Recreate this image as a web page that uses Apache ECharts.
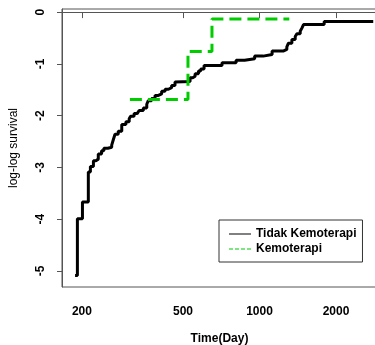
<!DOCTYPE html>
<html>
<head>
<meta charset="utf-8">
<script src="https://cdn.jsdelivr.net/npm/echarts@6/dist/echarts.min.js"></script>
<style>
html, body { margin: 0; padding: 0; background: #fff; }
#chart { width: 375px; height: 345px; }
</style>
</head>
<body>
<div id="chart"></div>
<script>
// Tidak Kemoterapi (black step curve)
const tidakTimes = [188, 192, 201, 212, 216, 222, 227, 232, 239, 244, 253, 262, 266, 270, 278, 287,
    298, 307, 311, 321, 330, 336, 349, 360, 365, 376, 388, 400, 412, 425, 438, 451, 465, 472,
    533, 546, 558, 575, 587, 605, 712, 809, 874, 957, 1034, 1121, 1245, 1281, 1300, 1341,
    1382, 1403, 1446, 1468, 1490, 1797, 2803];
const tidakValues = [-5.09, -3.99, -3.67, -3.09, -2.98, -2.87, -2.84, -2.74, -2.68, -2.63, -2.61, -2.57,
    -2.46, -2.36, -2.30, -2.17, -2.12, -2.06, -2.01, -1.96, -1.94, -1.90, -1.85, -1.78, -1.71,
    -1.67, -1.61, -1.58, -1.53, -1.49, -1.46, -1.42, -1.35, -1.34, -1.27, -1.24, -1.19, -1.14,
    -1.10, -1.03, -0.98, -0.93, -0.90, -0.85, -0.82, -0.75, -0.72, -0.67, -0.60, -0.53, -0.47,
    -0.42, -0.37, -0.31, -0.24, -0.18, -0.18];

// Kemoterapi (green dashed step curve)
const kemoTimes = [309, 523, 650, 1310];
const kemoValues = [-1.69, -0.76, -0.135, -0.135];

const xTicks = [200, 500, 1000, 2000];
const yTicks = [-5, -4, -3, -2, -1, 0];

const zip = (xs, ys) => xs.map((x, i) => [x, ys[i]]);

const FONT = 'Liberation Sans, Arial, sans-serif';
const GREEN = '#00cd00';

// legend keys: thin solid line and thin dashed line (the M moves keep the 22x14 box)
const solidKey = 'path://M0,0M22,14M0,6.5h22v1h-22z';
const dashedKey = 'path://M0,0M22,14M0,6.5h4v1h-4zM6,6.5h4v1h-4zM12,6.5h4v1h-4zM18,6.5h4v1h-4z';

var chart = echarts.init(document.getElementById('chart'), null, { renderer: 'canvas' });

chart.setOption({
    animation: false,
    backgroundColor: '#fff',
    grid: {
        left: 62,
        top: 9,
        right: -2,
        bottom: 58,
        outerBoundsMode: 'none',
        show: true,
        borderColor: '#555',
        borderWidth: 1
    },
    legend: {
        left: 219,
        top: 220,
        orient: 'vertical',
        padding: [7, 6, 6, 10],
        itemGap: 1,
        itemWidth: 22,
        itemHeight: 14,
        borderColor: '#333',
        borderWidth: 1,
        textStyle: { fontFamily: FONT, fontSize: 12, fontWeight: 'bold', color: '#000' },
        data: [
            { name: 'Tidak Kemoterapi', icon: solidKey, itemStyle: { color: '#000' } },
            { name: 'Kemoterapi', icon: dashedKey, itemStyle: { color: GREEN } }
        ]
    },
    xAxis: {
        type: 'log',
        logBase: 10,
        min: 167,
        max: 2900,
        name: 'Time(Day)',
        nameLocation: 'middle',
        nameGap: 46,
        nameMoveOverlap: false,
        nameTextStyle: { fontFamily: FONT, fontSize: 12, fontWeight: 'bold', color: '#000' },
        axisLine: { show: true, lineStyle: { color: '#555', width: 1 } },
        axisTick: { show: true, length: 6, customValues: xTicks, lineStyle: { color: '#555' } },
        axisLabel: {
            customValues: xTicks,
            margin: 19,
            formatter: (v) => String(v),
            fontFamily: FONT, fontSize: 12, fontWeight: 'bold', color: '#000'
        },
        splitLine: { show: false },
        minorTick: { show: false }
    },
    yAxis: {
        type: 'value',
        min: -5.31,
        max: 0.06,
        name: 'log-log survival',
        nameLocation: 'middle',
        nameGap: 42,
        nameMoveOverlap: false,
        nameTextStyle: { fontFamily: FONT, fontSize: 12, color: '#000' },
        axisLine: { show: true, lineStyle: { color: '#555', width: 1 } },
        axisTick: { show: true, length: 5, customValues: yTicks, lineStyle: { color: '#555' } },
        axisLabel: { customValues: yTicks, rotate: 90, margin: 15, fontFamily: FONT, fontSize: 12, fontWeight: 'bold', color: '#000' },
        splitLine: { show: false }
    },
    series: [
        {
            name: 'Tidak Kemoterapi',
            type: 'line',
            step: 'end',
            symbol: 'none',
            lineStyle: { color: '#000', width: 3 },
            itemStyle: { color: '#000' },
            data: zip(tidakTimes, tidakValues)
        },
        {
            name: 'Kemoterapi',
            type: 'line',
            step: 'end',
            symbol: 'none',
            lineStyle: { color: GREEN, width: 3, type: [12, 6] },
            itemStyle: { color: GREEN },
            data: zip(kemoTimes, kemoValues)
        }
    ]
});
</script>
</body>
</html>
